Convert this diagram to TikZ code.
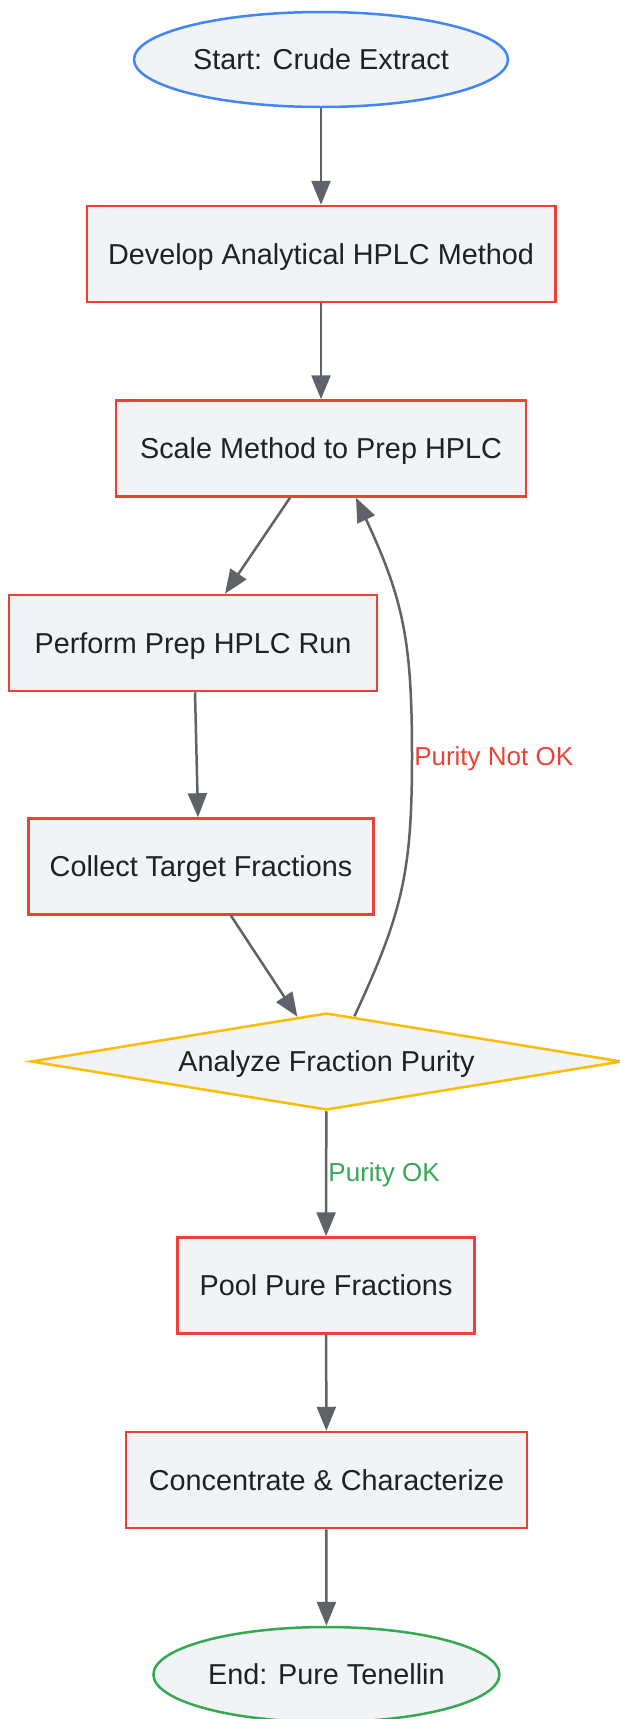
\documentclass[tikz,border=0pt]{standalone}
\usepackage{fontspec}
\setmainfont{Liberation Sans}
\usetikzlibrary{shapes.geometric,arrows.meta}
\definecolor{nodefill}{HTML}{F1F3F4}
\definecolor{txt}{HTML}{202124}
\definecolor{redc}{HTML}{EA4335}
\definecolor{bluec}{HTML}{4285F4}
\definecolor{greenc}{HTML}{34A853}
\definecolor{yellowc}{HTML}{FBBC05}
\definecolor{arrowc}{HTML}{5F6368}
\begin{document}
\begin{tikzpicture}[x=1pt,y=1pt,
  base/.style={fill=nodefill, line width=2.5pt, text=txt, font=\fontsize{28.8}{34}\selectfont, inner sep=0pt, text height=20.7pt, text depth=0pt},
  proc/.style={base, draw=redc, rectangle, minimum height=96pt},
  term/.style={base, ellipse, minimum height=95pt},
  decide/.style={base, draw=yellowc, diamond, minimum width=591pt, minimum height=97pt, aspect=6.1},
  edge/.style={draw=arrowc, line width=2.5pt, -{Triangle[length=24pt,width=19pt]}},
  lbl/.style={font=\fontsize{26}{30}\selectfont, inner sep=0pt, text height=18.6pt, text depth=0pt}]
\useasboundingbox (0,0) rectangle (620,-1719);
\node[term, draw=bluec, minimum width=374pt] (start) at (321,-59.5) {Start: Crude Extract};
\node[proc, minimum width=468.5pt] (dev) at (321,-254) {Develop Analytical HPLC Method};
\node[proc, minimum width=410pt] (scale) at (321,-448.5) {Scale Method to Prep HPLC};
\node[proc, minimum width=368pt] (perform) at (193,-643) {Perform Prep HPLC Run};
\node[proc, minimum width=345pt] (collect) at (201,-866.5) {Collect Target Fractions};
\node[decide] (d) at (326.4,-1061.5) {Analyze Fraction Purity};
\node[proc, minimum width=297pt] (pool) at (326,-1285.5) {Pool Pure Fractions};
\node[proc, minimum width=401pt] (conc) at (326.5,-1480) {Concentrate \& Characterize};
\node[term, draw=greenc, minimum width=346pt] (end) at (326.4,-1674.5) {End: Pure Tenellin};
\coordinate (bend) at (412,-756);

\draw[edge] (start) -- (dev);
\draw[edge] (dev) -- (scale);
\draw[edge] ([xshift=-31pt]scale.south) -- ([xshift=32pt]perform.north);
\draw[edge] ([xshift=2pt]perform.south) -- ([xshift=-3pt]collect.north);
\draw[edge] ([xshift=30pt]collect.south) -- ([xshift=-29pt,yshift=-5pt]d.north);
\draw[edge] ([xshift=28pt,yshift=-4.5pt]d.north) to[out=65,in=-90,looseness=1.1] (bend)
  node[lbl, anchor=west, text=redc, xshift=1pt] {Purity Not OK}
  to[out=90,in=-65,looseness=1.1] ([xshift=35pt]scale.south);
\draw[edge] (d) -- node[lbl, pos=0.49, anchor=west, text=greenc, xshift=1pt] {Purity OK} (pool);
\draw[edge] (pool) -- (conc);
\draw[edge] (conc) -- (end);
\end{tikzpicture}
\end{document}
